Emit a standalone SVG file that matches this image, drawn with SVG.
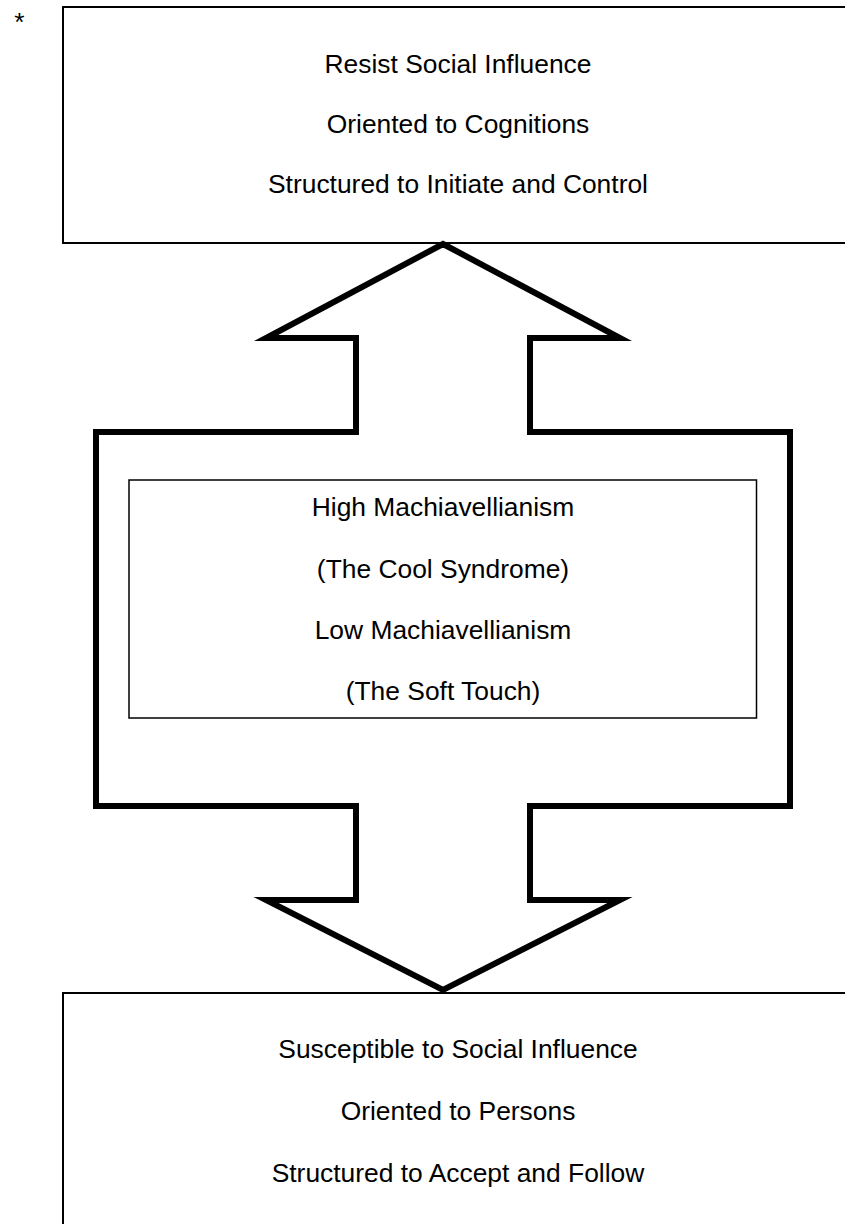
<svg xmlns="http://www.w3.org/2000/svg" width="845" height="1224" viewBox="0 0 845 1224">
  <style>
    .frame { fill: none; stroke: #000; stroke-width: 2; }
    .inner { fill: none; stroke: #000; stroke-width: 1.5; }
    .arrow { fill: #fff; stroke: #000; stroke-width: 6; stroke-linejoin: miter; stroke-miterlimit: 10; }
    text { font-family: "Liberation Sans", Arial, sans-serif; font-size: 26.4px; fill: #000; text-anchor: middle; }
  </style>
  <rect width="845" height="1224" fill="#fff"/>

  <text x="19.5" y="31" font-size="31">*</text>

  <!-- connector: double-headed block arrow -->
  <g id="connectors">
    <polygon class="arrow" points="443,244 620,338 530,338 530,432 790,432 790,806 530,806 530,900 620,900 443,990 266,900 356,900 356,806 96,806 96,432 356,432 356,338 266,338"/>
  </g>

  <g id="node-top">
    <path class="frame" d="M845,7 H63 V243 H845"/>
    <text x="458" y="73">Resist Social Influence</text>
    <text x="458" y="133">Oriented to Cognitions</text>
    <text x="458" y="193">Structured to Initiate and Control</text>
  </g>

  <g id="node-center">
    <rect class="inner" x="129" y="480" width="627.5" height="238"/>
    <text x="443" y="516">High Machiavellianism</text>
    <text x="443" y="578">(The Cool Syndrome)</text>
    <text x="443" y="639">Low Machiavellianism</text>
    <text x="443" y="700">(The Soft Touch)</text>
  </g>

  <g id="node-bottom">
    <path class="frame" d="M845,993 H63 V1224"/>
    <text x="458" y="1058">Susceptible to Social Influence</text>
    <text x="458" y="1120">Oriented to Persons</text>
    <text x="458" y="1182">Structured to Accept and Follow</text>
  </g>
</svg>
